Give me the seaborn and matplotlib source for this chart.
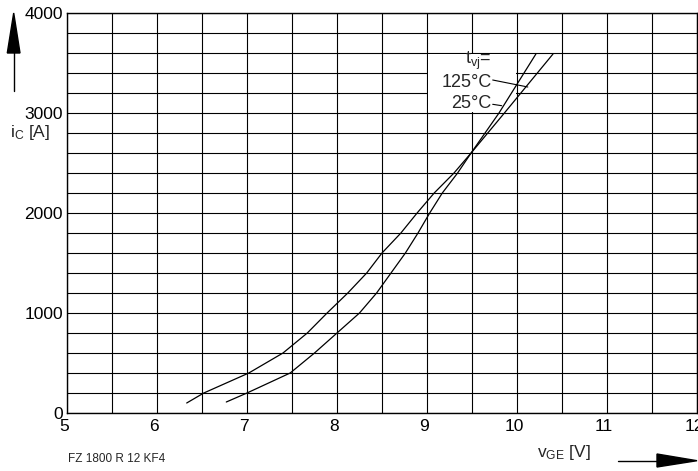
import numpy as np
import pandas as pd
import matplotlib
matplotlib.use("Agg")
import matplotlib.pyplot as plt
from matplotlib.patches import Rectangle, Polygon
from matplotlib.lines import Line2D
from matplotlib.transforms import ScaledTranslation
import seaborn as sns

# transfer characteristic
v_125 = [6.33, 6.52, 7.02, 7.40, 7.67, 7.89, 8.12, 8.33, 8.50, 8.71, 8.89, 9.08, 9.30, 9.49, 9.86, 10.40]
i_125 = [100, 200, 400, 600, 800, 1000, 1200, 1400, 1600, 1800, 2000, 2200, 2400, 2600, 3000, 3590]

v_25 = [6.77, 7.00, 7.48, 7.75, 8.00, 8.25, 8.44, 8.60, 8.76, 8.90, 9.03, 9.17, 9.34, 9.49, 9.80, 10.21]
i_25 = [110, 200, 400, 600, 800, 1000, 1200, 1400, 1600, 1800, 2000, 2200, 2400, 2600, 3000, 3590]

x_ticks = [5, 6, 7, 8, 9, 10, 11, 12]
y_ticks = [0, 1000, 2000, 3000, 4000]

df = pd.concat([
    pd.DataFrame({'VGE': v_125, 'IC': i_125, 'Tvj': '125°C'}),
    pd.DataFrame({'VGE': v_25, 'IC': i_25, 'Tvj': '25°C'}),
])

sns.set_style("white")
plt.rcParams['font.family'] = ['Liberation Sans', 'DejaVu Sans']
plt.rcParams['mathtext.fontset'] = 'custom'
plt.rcParams['mathtext.rm'] = 'Liberation Sans'

W, H = 698, 471
fig = plt.figure(figsize=(W / 100, H / 100), dpi=100)
ax = fig.add_axes([67 / W, 1 - 413 / H, 630 / W, 400 / H])

ax.set_axisbelow(True)
sns.lineplot(data=df, x='VGE', y='IC', units='Tvj', estimator=None, sort=False,
             color='black', linewidth=0.9, ax=ax, zorder=3)

ax.set_xlim(5, 12)
ax.set_ylim(0, 4000)
ax.set_xticks(np.arange(5, 12.01, 0.5), minor=True)
ax.set_yticks(np.arange(0, 4001, 200), minor=True)
ax.set_xticks(x_ticks)
ax.set_yticks(y_ticks)
ax.set_xticklabels([str(t) for t in x_ticks])
ax.set_yticklabels([str(t) for t in y_ticks])
ax.grid(True, which='both', color='black', linewidth=0.8)
ax.tick_params(which='both', length=0, labelsize=12.5, colors='black')
ax.tick_params(axis='x', pad=4)
ax.tick_params(axis='y', pad=3)
ax.set_xlabel('')
ax.set_ylabel('')
for s in ax.spines.values():
    s.set_color('black')
    s.set_linewidth(1.0)

# x tick labels sit a little left of their grid line in the original
shift = ScaledTranslation(-3 / 100, 0, fig.dpi_scale_trans)
for lbl in ax.get_xticklabels():
    lbl.set_transform(lbl.get_transform() + shift)

# white box behind the temperature labels
ax.add_patch(Rectangle((9.012, 3012), 0.976, 576, facecolor='white',
                       edgecolor='none', zorder=1))

ax.text(9.72, 3520, r'$\mathregular{t_{vj}}$=', ha='right', va='center', fontsize=13, zorder=4)
ax.text(9.72, 3305, '125°C', ha='right', va='center', fontsize=13, zorder=4)
ax.text(9.72, 3095, '25°C', ha='right', va='center', fontsize=13, zorder=4)
ax.plot([9.73, 10.12], [3330, 3260], color='black', lw=0.8, zorder=4)
ax.plot([9.73, 9.83], [3087, 3073], color='black', lw=0.8, zorder=4)
if ax.get_legend() is not None:
    ax.get_legend().remove()

# axis labels and arrows in pixel coordinates
def px(x, y):
    return (x / W, 1 - y / H)

fig.text(*px(30, 133), r'$\mathregular{i_C}$ [A]', ha='center', va='center', fontsize=12.5)
fig.text(*px(564, 453), r'$\mathregular{v_{GE}}$ [V]', ha='center', va='center', fontsize=12.5)
fig.text(*px(68, 459), 'FZ 1800 R 12 KF4', ha='left', va='center', fontsize=8.5)

fig.add_artist(Line2D(*zip(px(13.7, 91), px(13.7, 50)), color='black', lw=1.0,
                      transform=fig.transFigure))
fig.add_artist(Polygon([px(7.3, 53), px(20, 53), px(13.7, 13)], closed=True,
                       facecolor='black', edgecolor='black', transform=fig.transFigure))
fig.add_artist(Line2D(*zip(px(618, 460.7), px(660, 460.7)), color='black', lw=1.0,
                      transform=fig.transFigure))
fig.add_artist(Polygon([px(657, 454), px(657, 467), px(697, 460.7)], closed=True,
                       facecolor='black', edgecolor='black', transform=fig.transFigure))

fig.savefig('out.png', dpi=100)
